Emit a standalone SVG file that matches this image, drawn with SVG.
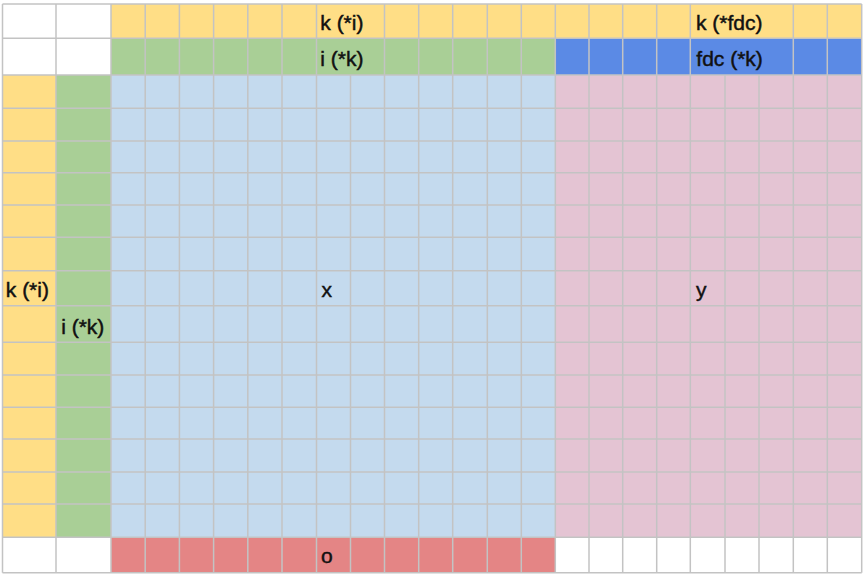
<svg xmlns="http://www.w3.org/2000/svg" width="865" height="577" viewBox="0 0 865 577">
<style>
.yel{fill:#FFDE86}.grn{fill:#A9CF96}.lbl{fill:#C4DAEE}.pnk{fill:#E4C4D3}.blu{fill:#5B8AE5}.red{fill:#E48585}
.grid{stroke:#C3C3C3;stroke-width:1.5;fill:none}
text{font-family:"Liberation Sans",Arial,sans-serif;font-size:21px;fill:#111111;stroke:#111111;stroke-width:0.45}
</style>
<rect x="0" y="0" width="865" height="577" fill="#FFFFFF"/>
<g id="header-k">
<rect class="yel" x="111" y="4" width="750.7" height="34.3"/>
<text x="320.3" y="30">k (*i)</text>
<text x="696" y="30">k (*fdc)</text>
</g>
<g id="header-i">
<rect class="grn" x="111" y="38.3" width="444.3" height="36.7"/>
<text x="320.3" y="65.7">i (*k)</text>
</g>
<g id="header-fdc">
<rect class="blu" x="555.3" y="38.3" width="306.4" height="36.7"/>
<text x="696.3" y="66">fdc (*k)</text>
</g>
<g id="side-k">
<rect class="yel" x="2.5" y="75" width="53.5" height="462.3"/>
<text x="5.8" y="297.3">k (*i)</text>
</g>
<g id="side-i">
<rect class="grn" x="56" y="75" width="55" height="462.3"/>
<text x="61.2" y="334">i (*k)</text>
</g>
<g id="block-x">
<rect class="lbl" x="111" y="75" width="444.3" height="462.3"/>
<text x="321.5" y="297">x</text>
</g>
<g id="block-y">
<rect class="pnk" x="555.3" y="75" width="306.4" height="462.3"/>
<text x="696" y="297">y</text>
</g>
<g id="block-o">
<rect class="red" x="111" y="537.3" width="444.3" height="35.4"/>
<text x="321" y="563.3">o</text>
</g>
<g id="gridlines" class="grid">
<path d="M2.5 4H861.7M2.5 38.3H861.7M2.5 75H861.7M2.5 108.3H861.7M2.5 141H861.7M2.5 172.7H861.7M2.5 205H861.7M2.5 237.3H861.7M2.5 270.7H861.7M2.5 305.7H861.7M2.5 342.3H861.7M2.5 375H861.7M2.5 407.3H861.7M2.5 439H861.7M2.5 472H861.7M2.5 504H861.7M2.5 537.3H861.7M2.5 572.7H861.7"/>
<path d="M2.5 4V572.7M56 4V572.7M111 4V572.7M145.2 4V572.7M179.4 4V572.7M213.6 4V572.7M247.8 4V572.7M282 4V572.7M316.5 4V572.7M350.5 75V572.7M384.5 4V572.7M418.7 4V572.7M452.7 4V572.7M487.3 4V572.7M521.3 4V572.7M555.3 4V572.7M589 4V572.7M622.7 4V572.7M656.7 4V572.7M690.3 4V572.7M725 75V572.7M759 75V572.7M793.3 4V572.7M827.3 4V572.7M861.7 4V572.7"/>
</g>
</svg>
